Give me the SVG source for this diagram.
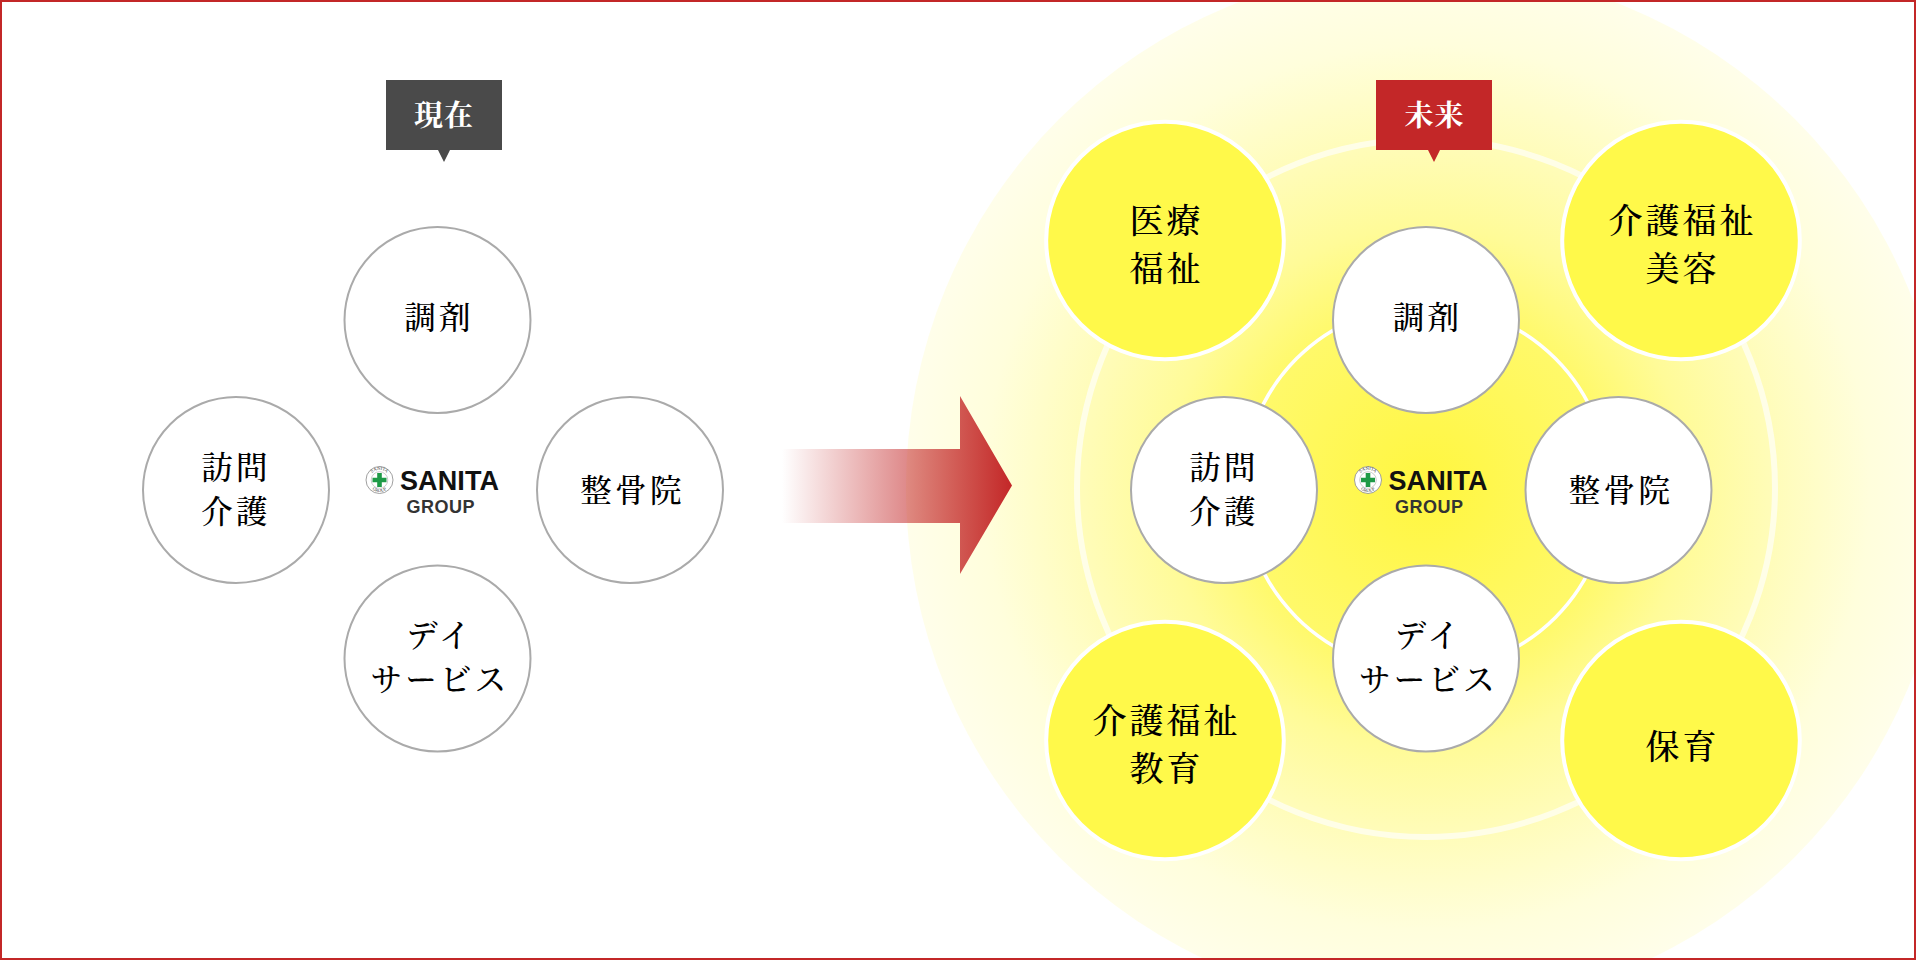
<svg xmlns="http://www.w3.org/2000/svg" width="1916" height="960" viewBox="0 0 1916 960">
<style>
.t{font-family:"Noto Serif CJK JP","Noto Sans CJK JP","Noto Sans CJK SC",serif;font-weight:500;text-anchor:middle;fill:#000}
.w{font-size:31.5px;letter-spacing:3.3px}
.y{font-size:34px;letter-spacing:3px}
.tag{font-size:29px;letter-spacing:1px;fill:#fff;font-weight:700}
.nw{fill:#fff;stroke:#aaa;stroke-width:2}
.ny{fill:#fff94a;stroke:#fff;stroke-width:4}
.la{font-family:"Liberation Sans",Arial,sans-serif;font-weight:700}
.ti{font-family:"Liberation Serif",serif;font-size:4.6px;fill:#333}
</style>
<defs>
<radialGradient id="glow" gradientUnits="userSpaceOnUse" cx="1427" cy="488" r="521">
<stop offset="0" stop-color="#fff63f"/>
<stop offset="0.35" stop-color="#fff96a"/>
<stop offset="0.5" stop-color="#fffb98"/>
<stop offset="0.66" stop-color="#fffcb8"/>
<stop offset="0.85" stop-color="#fffedc"/>
<stop offset="1" stop-color="#fffeea"/>
</radialGradient>
<linearGradient id="arr" gradientUnits="userSpaceOnUse" x1="782" y1="0" x2="1012" y2="0">
<stop offset="0" stop-color="#c32728" stop-opacity="0"/>
<stop offset="1" stop-color="#c32728"/>
</linearGradient>
<path id="rt" d="M369.3 480A10.2 10.2 0 0 1 389.7 480"/>
<path id="rb" d="M367.5 480A12 12 0 0 0 391.5 480"/>
<g id="logo">
<circle cx="379.5" cy="480" r="13.5" fill="#fff" stroke="#888" stroke-width="0.8"/>
<circle cx="379.5" cy="480" r="8.3" fill="#fff" stroke="#999" stroke-width="0.5"/>
<path d="M377.2 473h4.6v4.7h4.7v4.6h-4.7v4.7h-4.6v-4.7h-4.7v-4.6h4.7z" fill="#1f9a47"/>
<text class="ti"><textPath href="#rt" startOffset="50%" text-anchor="middle">SANITA</textPath></text>
<text class="ti"><textPath href="#rb" startOffset="50%" text-anchor="middle">GROUP</textPath></text>
<text class="la" x="400" y="490" font-size="27" fill="#111" textLength="99">SANITA</text>
<text class="la" x="406.5" y="512.5" font-size="18" fill="#333" textLength="68">GROUP</text>
</g>
</defs>
<rect width="1916" height="960" fill="#fff"/>
<g id="background-rings">
<circle cx="1427" cy="488" r="521" fill="url(#glow)"/>
<circle cx="1426" cy="488" r="349" fill="none" stroke="#fff" stroke-opacity=".65" stroke-width="6"/>
<circle cx="1426" cy="488" r="183" fill="none" stroke="#fff" stroke-width="3.5"/>
</g>
<g id="connectors">
<path d="M782 449H960V396L1012 485.5L960 574V523H782Z" fill="url(#arr)"/>
</g>
<g id="tag-now">
<path d="M386 80H502V150H450L444 162L438 150H386Z" fill="#4a4a4a"/>
<text class="t tag" x="444" y="126">現在</text>
</g>
<g id="tag-future">
<path d="M1376 80H1492V150H1440L1434 162L1428 150H1376Z" fill="#c32728"/>
<text class="t tag" x="1434.5" y="126">未来</text>
</g>
<g id="logo-now"><use href="#logo"/></g>
<g id="node-now-chouzai"><circle class="nw" cx="437.5" cy="320" r="93"/><text class="t w" x="439" y="329">調剤</text></g>
<g id="node-now-houmon"><circle class="nw" cx="236" cy="490" r="93"/><text class="t w" x="236" y="479">訪問</text><text class="t w" x="236" y="523">介護</text></g>
<g id="node-now-seikotsu"><circle class="nw" cx="630" cy="490" r="93"/><text class="t w" x="632.5" y="502">整骨院</text></g>
<g id="node-now-day"><circle class="nw" cx="437.5" cy="658.5" r="93"/><text class="t w" x="440" y="647">デイ</text><text class="t w" x="440" y="691">サービス</text></g>
<g id="node-iryou"><circle class="ny" cx="1165" cy="240.5" r="118.8"/><text class="t y" x="1166.5" y="233">医療</text><text class="t y" x="1166.5" y="281">福祉</text></g>
<g id="node-biyou"><circle class="ny" cx="1681" cy="240.5" r="118.8"/><text class="t y" x="1682.5" y="233">介護福祉</text><text class="t y" x="1682.5" y="281">美容</text></g>
<g id="node-kyouiku"><circle class="ny" cx="1165" cy="740.5" r="118.8"/><text class="t y" x="1166.5" y="733">介護福祉</text><text class="t y" x="1166.5" y="781">教育</text></g>
<g id="node-hoiku"><circle class="ny" cx="1681" cy="740.5" r="118.8"/><text class="t y" x="1682.5" y="759">保育</text></g>
<g id="logo-future"><use href="#logo" x="988.5"/></g>
<g id="node-future-chouzai"><circle class="nw" cx="1426" cy="320" r="93"/><text class="t w" x="1427.5" y="329">調剤</text></g>
<g id="node-future-houmon"><circle class="nw" cx="1224" cy="490" r="93"/><text class="t w" x="1224" y="479">訪問</text><text class="t w" x="1224" y="523">介護</text></g>
<g id="node-future-seikotsu"><circle class="nw" cx="1618.5" cy="490" r="93"/><text class="t w" x="1621" y="502">整骨院</text></g>
<g id="node-future-day"><circle class="nw" cx="1426" cy="658.5" r="93"/><text class="t w" x="1428.5" y="647">デイ</text><text class="t w" x="1428.5" y="691">サービス</text></g>
<rect id="frame" x="1" y="1" width="1914" height="958" fill="none" stroke="#c32728" stroke-width="2"/>
</svg>
